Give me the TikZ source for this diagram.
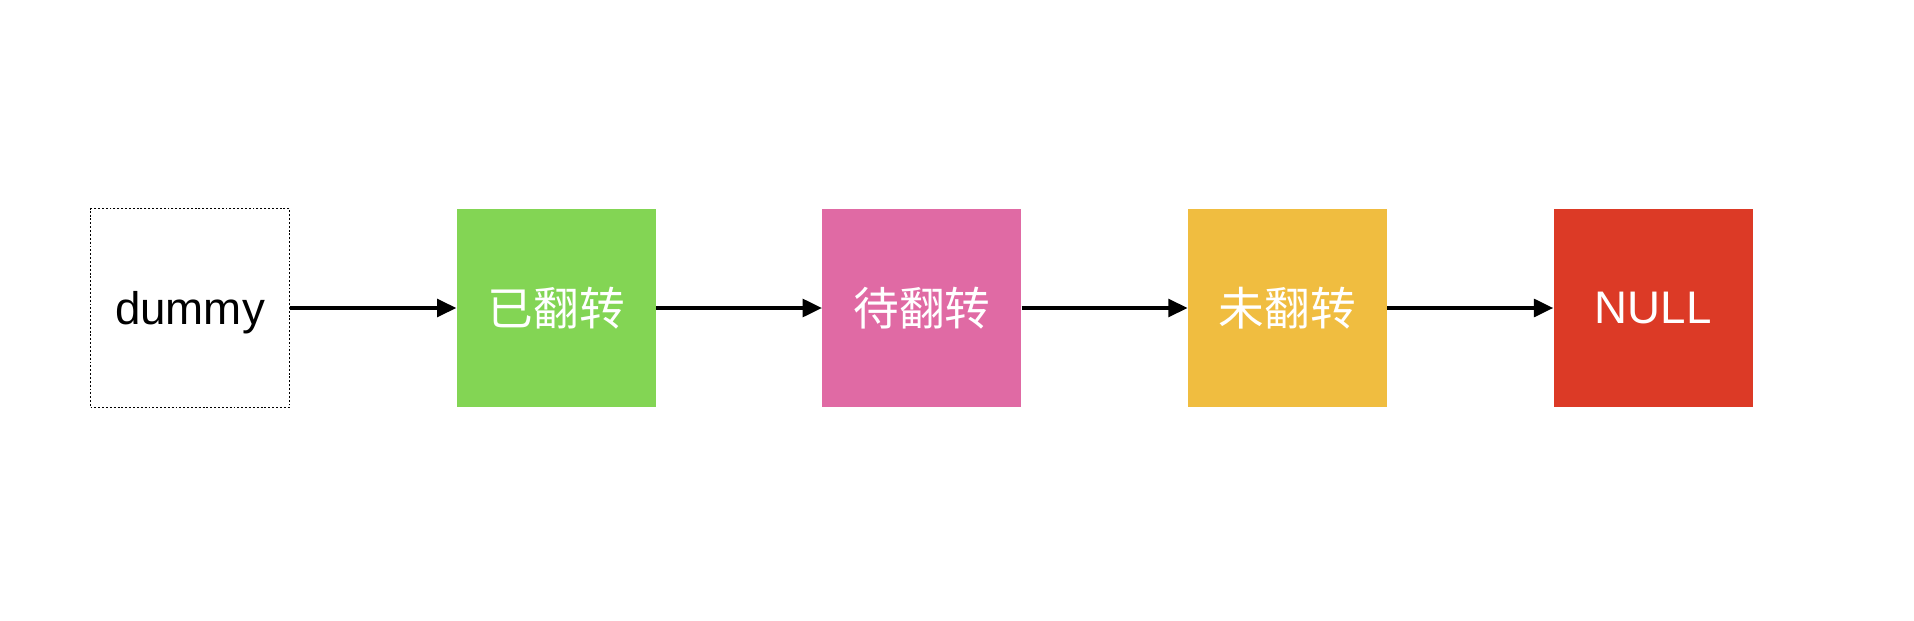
\documentclass[tikz,border=0pt]{standalone}
\usepackage{fontspec}
\setmainfont{Liberation Sans}
\newfontfamily\cjk{Noto Sans CJK SC}
\usetikzlibrary{positioning,arrows.meta}
\definecolor{doneGreen}{RGB}{131,213,84}
\definecolor{todoPink}{RGB}{224,106,164}
\definecolor{restYellow}{RGB}{240,189,64}
\definecolor{nullRed}{RGB}{220,58,38}
\begin{document}
\begin{tikzpicture}[x=0.02cm, y=0.02cm, node distance=3.32cm,
    box/.style={minimum size=3.98cm, inner sep=0pt, text=white, font=\fontsize{26}{30}\selectfont},
    link/.style={line width=2.2pt, -{Triangle[length=11pt,width=10pt]}}]
  \useasboundingbox (0,0) rectangle (1914,620);
  \node[box, draw, dash pattern=on 1.1pt off 1.1pt, line width=1.1pt, text=black, text depth=0pt] (dummy) at (190,312) {dummy};
  \node[box, fill=doneGreen, right=of dummy] (done) {\cjk 已翻转};
  \node[box, fill=todoPink, right=of done] (todo) {\cjk 待翻转};
  \node[box, fill=restYellow, right=of todo] (rest) {\cjk 未翻转};
  \node[box, fill=nullRed, right=of rest] (null) {NULL};
  \draw[link] (dummy) -- (done);
  \draw[link] (done) -- (todo);
  \draw[link] (todo) -- (rest);
  \draw[link] (rest) -- (null);
\end{tikzpicture}
\end{document}
